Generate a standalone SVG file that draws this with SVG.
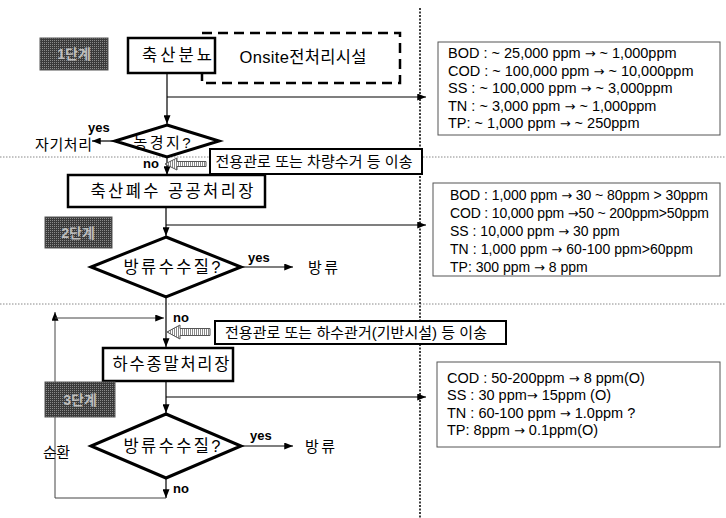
<svg xmlns="http://www.w3.org/2000/svg" width="726" height="518" viewBox="0 0 726 518">
<defs>
<marker id="ah" viewBox="0 0 10 8" refX="10" refY="4" markerWidth="9" markerHeight="7" markerUnits="userSpaceOnUse" orient="auto"><path d="M0,0 L10,4 L0,8 z" fill="#000"/></marker>
<pattern id="dots" width="2" height="2" patternUnits="userSpaceOnUse"><rect width="2" height="2" fill="#3a3a3a"/><rect width="1" height="1" fill="#8a8a8a"/></pattern>
<pattern id="stripe" width="2" height="2" patternUnits="userSpaceOnUse"><rect width="2" height="2" fill="#fff"/><rect width="1" height="2" fill="#888"/></pattern>
</defs>
<style>
.ko{font-family:"Liberation Sans","Noto Sans CJK KR",sans-serif;fill:#000}
.lbl{font-size:16.5px;text-anchor:middle}
.tr{font-size:15px;text-anchor:middle}
.info{font-family:"Liberation Sans","Noto Sans CJK KR",sans-serif;font-size:14.5px;fill:#000}
.info2{font-size:14px}
.ar{font-family:"DejaVu Sans",sans-serif;font-size:13px}
.yn{font-family:"Liberation Sans",sans-serif;font-size:13px;font-weight:bold;fill:#000}
.box{fill:#fff;stroke:#000;stroke-width:2.5}
.tbox{fill:#fff;stroke:#555;stroke-width:1}
.dia{fill:#fff;stroke:#000;stroke-width:3}
.stage{fill:url(#dots);stroke:#555;stroke-width:1}
.stxt{font-family:"Liberation Sans","Noto Sans CJK KR",sans-serif;font-size:14px;font-weight:bold;fill:#bdbdbd;text-anchor:middle}
.c{stroke:#000;stroke-width:1.2;fill:none}
.loop{stroke:#444;stroke-width:1;fill:none}
.hdot{stroke:#888;stroke-width:1;stroke-dasharray:1.5 1.5}
.vdot{stroke:#000;stroke-width:1.5;stroke-dasharray:2 1.5}
.hollow{fill:url(#stripe);stroke:#555;stroke-width:1}
</style>
<rect width="726" height="518" fill="#fff"/>
<g id="guides">
<line class="hdot" x1="0" y1="157" x2="726" y2="157"/>
<line class="hdot" x1="0" y1="304" x2="726" y2="304"/>
<line class="vdot" x1="420" y1="8" x2="420" y2="518"/>
</g>
<g id="connectors">
<line class="c" x1="167" y1="73" x2="167" y2="124" marker-end="url(#ah)"/>
<line class="c" x1="167" y1="97" x2="426" y2="97" marker-end="url(#ah)"/>
<line class="c" x1="115" y1="141" x2="92" y2="141" marker-end="url(#ah)"/>
<line class="c" x1="167" y1="157" x2="167" y2="175" marker-end="url(#ah)"/>
<line class="c" x1="166" y1="207" x2="166" y2="236" marker-end="url(#ah)"/>
<line class="c" x1="166" y1="225" x2="426" y2="225" marker-end="url(#ah)"/>
<line class="c" x1="241" y1="267" x2="293" y2="267" marker-end="url(#ah)"/>
<line class="c" x1="166" y1="297" x2="166" y2="347" marker-end="url(#ah)"/>
<line class="c" x1="166" y1="381" x2="166" y2="413" marker-end="url(#ah)"/>
<line class="c" x1="166" y1="397" x2="426" y2="397" marker-end="url(#ah)"/>
<line class="c" x1="241" y1="446" x2="293" y2="446" marker-end="url(#ah)"/>
<line class="c" x1="166" y1="478" x2="166" y2="498" marker-end="url(#ah)"/>
<polyline class="loop" points="166,498 55,498 55,312" marker-end="url(#ah)"/>
<line class="loop" x1="55" y1="318" x2="164" y2="318" marker-end="url(#ah)"/>
<polygon class="hollow" points="165,164 177,158 177,161.5 206,161.5 206,166.5 177,166.5 177,170"/>
<polygon class="hollow" points="167,332 180,325 180,328.5 210,328.5 210,335.5 180,335.5 180,339"/>
</g>
<g id="stage1">
<rect class="stage" x="40" y="38" width="68" height="32"/>
<text class="stxt" x="74" y="59">1단계</text>
</g>
<g id="onsite">
<rect x="202" y="33" width="198" height="50" fill="none" stroke="#000" stroke-width="2.5" stroke-dasharray="10 6"/>
<text class="ko lbl" x="303" y="63" textLength="127" lengthAdjust="spacing">Onsite전처리시설</text>
</g>
<g id="manure">
<rect class="box" x="128" y="38" width="87" height="35"/>
<text class="ko lbl" x="177" y="61" textLength="70" lengthAdjust="spacing">축산분뇨</text>
</g>
<g id="info1">
<rect class="tbox" x="438" y="42" width="282" height="93"/>
<text class="info" x="448" y="58">BOD : ~ 25,000 ppm <tspan class="ar">→</tspan> ~ 1,000ppm</text>
<text class="info" x="448" y="75.5">COD : ~ 100,000 ppm <tspan class="ar">→</tspan> ~ 10,000ppm</text>
<text class="info" x="448" y="93">SS : ~ 100,000 ppm <tspan class="ar">→</tspan> ~ 3,000ppm</text>
<text class="info" x="448" y="110.5">TN : ~ 3,000 ppm <tspan class="ar">→</tspan> ~ 1,000ppm</text>
<text class="info" x="448" y="128">TP: ~ 1,000 ppm <tspan class="ar">→</tspan> ~ 250ppm</text>
</g>
<g id="farmland">
<polygon class="dia" points="167,125 219,141 167,157 115,141"/>
<text class="ko" x="162" y="148" font-size="15" text-anchor="middle" textLength="57" lengthAdjust="spacing">농경지?</text>
<text class="yn" x="88" y="132">yes</text>
<text class="ko" x="35" y="150" font-size="15" textLength="57" lengthAdjust="spacing">자기처리</text>
<text class="yn" x="143" y="168">no</text>
</g>
<g id="transport1">
<rect x="210" y="149" width="212" height="25" fill="#fff" stroke="#000" stroke-width="2"/>
<text class="ko tr" x="314" y="166.5" textLength="197" lengthAdjust="spacing">전용관로 또는 차량수거 등 이송</text>
</g>
<g id="plant1">
<rect class="box" x="68" y="175" width="197" height="32"/>
<text class="ko lbl" x="172" y="197" textLength="163" lengthAdjust="spacing">축산폐수 공공처리장</text>
</g>
<g id="stage2">
<rect class="stage" x="45" y="217" width="67" height="31"/>
<text class="stxt" x="78" y="238">2단계</text>
</g>
<g id="quality1">
<polygon class="dia" points="166,237 241,267 166,297 91,267"/>
<text class="ko lbl" x="172" y="273" textLength="97" lengthAdjust="spacing">방류수수질?</text>
<text class="yn" x="248" y="262">yes</text>
<text class="ko" x="308" y="273" font-size="15" textLength="30" lengthAdjust="spacing">방류</text>
</g>
<g id="info2">
<rect class="tbox" x="433" y="183" width="287" height="93"/>
<text class="info info2" x="450" y="200" textLength="258" lengthAdjust="spacing">BOD : 1,000 ppm <tspan class="ar">→</tspan> 30 ~ 80ppm &gt; 30ppm</text>
<text class="info info2" x="450" y="218" textLength="259" lengthAdjust="spacing">COD : 10,000 ppm <tspan class="ar">→</tspan>50 ~ 200ppm&gt;50ppm</text>
<text class="info info2" x="450" y="236">SS : 10,000 ppm <tspan class="ar">→</tspan> 30 ppm</text>
<text class="info info2" x="450" y="254" textLength="243" lengthAdjust="spacing">TN : 1,000 ppm <tspan class="ar">→</tspan> 60-100 ppm&gt;60ppm</text>
<text class="info info2" x="450" y="272">TP:  300 ppm <tspan class="ar">→</tspan> 8 ppm</text>
</g>
<g id="transport2">
<text class="yn" x="173" y="322">no</text>
<rect x="215" y="321" width="291" height="23" fill="#fff" stroke="#000" stroke-width="2"/>
<text class="ko tr" x="356" y="338" textLength="262" lengthAdjust="spacing">전용관로 또는 하수관거(기반시설) 등 이송</text>
</g>
<g id="plant2">
<rect class="box" x="103" y="348" width="130" height="33"/>
<text class="ko lbl" x="171" y="370" textLength="117" lengthAdjust="spacing">하수종말처리장</text>
</g>
<g id="stage3">
<rect class="stage" x="45" y="382" width="70" height="35"/>
<text class="stxt" x="80" y="405">3단계</text>
</g>
<g id="info3">
<rect class="tbox" x="437" y="362" width="283" height="85"/>
<text class="info" x="447" y="383">COD : 50-200ppm <tspan class="ar">→</tspan> 8 ppm(O)</text>
<text class="info" x="447" y="400">SS : 30 ppm<tspan class="ar">→</tspan> 15ppm (O)</text>
<text class="info" x="447" y="418">TN : 60-100 ppm <tspan class="ar">→</tspan> 1.0ppm ?</text>
<text class="info" x="447" y="435">TP:  8ppm <tspan class="ar">→</tspan> 0.1ppm(O)</text>
</g>
<g id="quality2">
<polygon class="dia" points="166,414 241,446 166,478 91,446"/>
<text class="ko lbl" x="172" y="452" textLength="97" lengthAdjust="spacing">방류수수질?</text>
<text class="yn" x="250" y="440">yes</text>
<text class="ko" x="305" y="452" font-size="15" textLength="30" lengthAdjust="spacing">방류</text>
<text class="yn" x="173" y="493">no</text>
<text class="ko" x="43" y="458" font-size="15" textLength="27" lengthAdjust="spacing">순환</text>
</g>
</svg>
